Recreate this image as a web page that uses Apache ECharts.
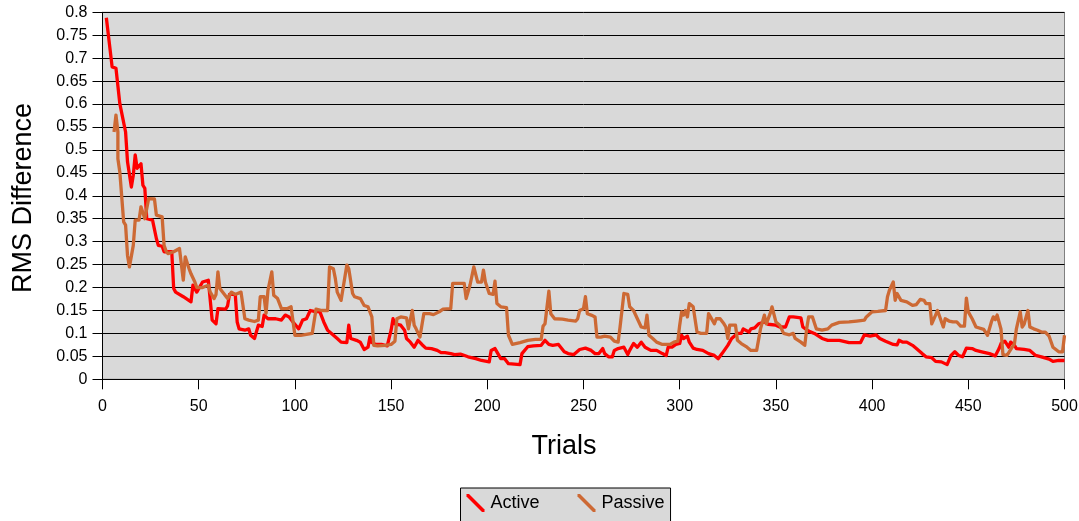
<!DOCTYPE html>
<html>
<head>
<meta charset="utf-8">
<title>RMS Difference by Trial</title>
<script src="https://cdn.jsdelivr.net/npm/echarts@6/dist/echarts.min.js"></script>
<style>
  html, body { margin: 0; padding: 0; background: #ffffff; }
  #chart { width: 1079px; height: 521px; }
</style>
</head>
<body>
<div id="chart"></div>
<script>
// [trial, RMS difference] samples for each learner
const activeData = [
  [2,0.788],[5,0.681],[7,0.678],[9,0.601],[10,0.598],[12,0.539],[13,0.474],[14,0.47],[15,0.419],[16,0.445],
  [17,0.489],[18,0.46],[20,0.47],[21,0.423],[22,0.416],[23,0.35],[26,0.347],[28,0.307],[29,0.292],[31,0.29],
  [32,0.278],[36,0.278],[37,0.198],[38,0.19],[42,0.18],[46,0.169],[47,0.205],[49,0.19],[52,0.212],[55,0.216],
  [57,0.129],[59,0.121],[60,0.154],[64,0.153],[65,0.16],[66,0.185],[69,0.185],[70,0.125],[71,0.11],[72,0.112],
  [74,0.107],[76,0.11],[77,0.096],[79,0.089],[80,0.085],[81,0.118],[83,0.115],[84,0.14],[86,0.132],[90,0.132],
  [93,0.129],[95,0.14],[97,0.136],[99,0.125],[102,0.11],[104,0.129],[106,0.132],[108,0.15],[110,0.148],[113,0.147],
  [115,0.125],[117,0.107],[119,0.1],[122,0.089],[124,0.081],[127,0.08],[128,0.118],[129,0.089],[132,0.085],[134,0.081],
  [136,0.065],[138,0.07],[139,0.092],[140,0.08],[142,0.076],[145,0.076],[148,0.073],[150,0.107],[151,0.132],[152,0.121],
  [155,0.118],[157,0.107],[158,0.089],[160,0.081],[162,0.07],[164,0.085],[166,0.076],[168,0.068],[171,0.067],[174,0.063],
  [176,0.058],[178,0.058],[181,0.056],[183,0.054],[186,0.055],[190,0.049],[194,0.045],[197,0.041],[201,0.038],[202,0.063],
  [204,0.067],[205,0.063],[207,0.045],[209,0.045],[211,0.034],[214,0.033],[217,0.032],[218,0.056],[221,0.071],[224,0.073],
  [228,0.074],[229,0.07],[230,0.085],[232,0.076],[234,0.074],[237,0.076],[240,0.06],[242,0.056],[245,0.054],[248,0.065],
  [251,0.068],[254,0.063],[256,0.056],[258,0.056],[260,0.067],[261,0.056],[263,0.049],[265,0.049],[266,0.063],[268,0.067],
  [271,0.07],[273,0.054],[274,0.063],[276,0.078],[278,0.07],[280,0.081],[282,0.07],[285,0.063],[288,0.063],[291,0.056],
  [293,0.052],[294,0.07],[296,0.07],[298,0.076],[300,0.078],[301,0.096],[302,0.089],[304,0.094],[305,0.081],[307,0.068],
  [309,0.065],[312,0.063],[315,0.056],[318,0.052],[320,0.045],[322,0.056],[323,0.054],[325,0.074],[327,0.089],[328,0.088],
  [330,0.1],[332,0.1],[333,0.11],[336,0.103],[337,0.11],[339,0.112],[341,0.121],[344,0.125],[346,0.12],[350,0.118],
  [352,0.114],[355,0.114],[357,0.136],[359,0.136],[363,0.134],[364,0.114],[367,0.105],[370,0.1],[374,0.089],[377,0.085],
  [383,0.085],[388,0.08],[394,0.08],[396,0.097],[399,0.094],[402,0.097],[404,0.089],[407,0.083],[411,0.076],[413,0.075],
  [414,0.085],[416,0.081],[418,0.081],[421,0.074],[423,0.067],[426,0.056],[428,0.049],[431,0.047],[433,0.039],[436,0.038],
  [439,0.032],[441,0.052],[443,0.06],[445,0.052],[447,0.049],[449,0.068],[452,0.067],[454,0.063],[457,0.06],[461,0.056],
  [464,0.051],[466,0.067],[467,0.078],[469,0.083],[471,0.07],[472,0.081],[474,0.074],[475,0.067],[479,0.065],[482,0.063],
  [485,0.052],[488,0.049],[492,0.044],[494,0.039],[497,0.041],[500,0.041]
];

const passiveData = [
  [6,0.539],[7,0.576],[8,0.539],[8,0.481],[9,0.452],[11,0.343],[12,0.336],[13,0.27],[14,0.245],[15,0.249],
  [16,0.292],[17,0.347],[19,0.347],[20,0.376],[21,0.38],[22,0.35],[23,0.35],[24,0.394],[27,0.393],[28,0.358],
  [31,0.354],[32,0.292],[33,0.28],[34,0.274],[37,0.278],[40,0.285],[41,0.289],[42,0.216],[43,0.267],[45,0.241],
  [46,0.23],[48,0.212],[49,0.2],[52,0.2],[55,0.205],[56,0.19],[58,0.176],[59,0.185],[60,0.234],[61,0.198],
  [63,0.187],[65,0.176],[67,0.19],[69,0.185],[72,0.19],[73,0.187],[74,0.132],[76,0.129],[79,0.126],[81,0.129],
  [82,0.18],[84,0.18],[85,0.144],[86,0.194],[88,0.234],[89,0.183],[91,0.176],[92,0.172],[93,0.154],[96,0.154],
  [98,0.158],[99,0.156],[100,0.096],[103,0.096],[106,0.098],[109,0.1],[110,0.101],[111,0.153],[114,0.15],[117,0.15],
  [118,0.245],[120,0.241],[121,0.22],[122,0.19],[124,0.172],[125,0.172],[127,0.249],[128,0.241],[130,0.187],[131,0.18],
  [134,0.176],[136,0.161],[138,0.158],[140,0.136],[141,0.074],[143,0.073],[147,0.074],[150,0.076],[152,0.083],[153,0.132],
  [155,0.136],[158,0.134],[159,0.11],[160,0.108],[161,0.15],[162,0.118],[163,0.11],[165,0.092],[166,0.09],[167,0.143],
  [170,0.143],[172,0.141],[175,0.147],[177,0.153],[181,0.154],[182,0.209],[188,0.209],[189,0.176],[191,0.205],[192,0.209],
  [193,0.245],[194,0.241],[195,0.212],[197,0.212],[198,0.238],[199,0.212],[201,0.187],[203,0.185],[204,0.214],[205,0.165],
  [207,0.158],[210,0.156],[211,0.096],[213,0.076],[217,0.08],[221,0.085],[225,0.087],[228,0.087],[229,0.116],[230,0.121],
  [232,0.192],[233,0.143],[235,0.132],[239,0.131],[242,0.129],[246,0.127],[247,0.132],[248,0.15],[250,0.154],[251,0.18],
  [252,0.143],[254,0.14],[256,0.136],[257,0.092],[259,0.092],[261,0.094],[264,0.092],[266,0.083],[268,0.081],[269,0.114],
  [270,0.118],[271,0.187],[273,0.185],[274,0.158],[276,0.15],[278,0.132],[280,0.114],[282,0.112],[283,0.14],[284,0.096],
  [286,0.089],[288,0.081],[291,0.076],[292,0.078],[295,0.076],[297,0.081],[299,0.083],[300,0.118],[301,0.147],[302,0.14],
  [303,0.15],[304,0.136],[305,0.165],[307,0.158],[308,0.158],[309,0.103],[311,0.1],[314,0.1],[315,0.143],[316,0.136],
  [318,0.121],[319,0.132],[321,0.132],[323,0.121],[324,0.114],[325,0.089],[326,0.118],[329,0.118],[330,0.085],[332,0.078],
  [335,0.07],[337,0.063],[340,0.063],[342,0.11],[343,0.114],[344,0.14],[345,0.121],[347,0.143],[348,0.158],[349,0.158],
  [350,0.125],[352,0.118],[354,0.1],[357,0.097],[359,0.1],[360,0.089],[363,0.081],[365,0.074],[366,0.11],[367,0.136],
  [369,0.136],[371,0.11],[374,0.107],[377,0.11],[379,0.118],[383,0.124],[388,0.125],[392,0.127],[396,0.129],[397,0.136],
  [400,0.147],[403,0.148],[407,0.15],[408,0.18],[409,0.194],[411,0.212],[412,0.172],[413,0.187],[415,0.172],[418,0.169],
  [421,0.161],[423,0.163],[425,0.174],[427,0.172],[428,0.165],[430,0.165],[431,0.121],[432,0.125],[433,0.14],[434,0.15],
  [435,0.154],[437,0.114],[438,0.132],[440,0.127],[442,0.125],[444,0.125],[446,0.116],[448,0.116],[449,0.177],[450,0.147],
  [452,0.132],[454,0.114],[455,0.11],[458,0.109],[460,0.096],[461,0.096],[462,0.125],[463,0.136],[464,0.13],[465,0.14],
  [467,0.109],[468,0.054],[470,0.052],[471,0.058],[474,0.078],[475,0.11],[477,0.147],[478,0.114],[479,0.12],[481,0.15],
  [482,0.114],[484,0.11],[486,0.107],[488,0.103],[490,0.103],[492,0.094],[494,0.07],[497,0.06],[499,0.06],[500,0.096]
];

const seriesNames = ['Active', 'Passive'];
const seriesColors = ['#ff0000', '#cd6934'];
const xAxisTitle = 'Trials';
const yAxisTitle = 'RMS Difference';

const FONT = '"Liberation Sans", Arial, sans-serif';
// diagonal stroke used as legend key
const slashIcon = 'path://M0,0 L2.5,0 L18,15.5 L18,18 L15.5,18 L0,2.5 Z';

const chart = echarts.init(document.getElementById('chart'), null, { renderer: 'canvas' });

chart.setOption({
  animation: false,
  backgroundColor: '#ffffff',
  textStyle: { fontFamily: FONT },
  grid: {
    left: 102.5,
    top: 12.3,
    right: 14.5,
    bottom: 141.7,
    show: true,
    backgroundColor: '#d9d9d9',
    borderColor: '#808080',
    borderWidth: 1,
    containLabel: false,
    outerBoundsMode: 'none'
  },
  xAxis: {
    type: 'value',
    min: 0,
    max: 500,
    interval: 50,
    axisLine: { show: true, onZero: false, lineStyle: { color: '#000000', width: 1 } },
    axisTick: { show: true, inside: false, length: 10, lineStyle: { color: '#000000', width: 1 } },
    axisLabel: { color: '#000000', fontSize: 16, fontFamily: FONT, margin: 19 },
    splitLine: { show: false }
  },
  yAxis: {
    type: 'value',
    min: 0,
    max: 0.8,
    interval: 0.05,
    axisLine: { show: true, lineStyle: { color: '#000000', width: 1 } },
    axisTick: { show: true, inside: false, length: 10, lineStyle: { color: '#000000', width: 1 } },
    axisLabel: {
      color: '#000000', fontSize: 16, fontFamily: FONT, margin: 15,
      formatter: v => String(+v.toFixed(2))
    },
    splitLine: { show: true, lineStyle: { color: '#000000', width: 1 } }
  },
  legend: {
    left: 460.5,
    top: 488,
    orient: 'horizontal',
    backgroundColor: '#d9d9d9',
    borderColor: '#000000',
    borderWidth: 1,
    borderRadius: 0,
    padding: [6, 6, 16, 6],
    itemWidth: 18,
    itemHeight: 18,
    itemGap: 38,
    textStyle: { color: '#000000', fontSize: 18, fontFamily: FONT, padding: [11, 0, 0, 1] },
    data: seriesNames.map(n => ({ name: n, icon: slashIcon }))
  },
  graphic: [
    {
      type: 'text',
      x: 564,
      y: 447,
      style: {
        text: xAxisTitle,
        fill: '#000000',
        font: '27px ' + FONT,
        textAlign: 'center',
        textVerticalAlign: 'middle'
      }
    },
    {
      type: 'text',
      x: 24,
      y: 198,
      rotation: Math.PI / 2,
      style: {
        text: yAxisTitle,
        fill: '#000000',
        font: '27px ' + FONT,
        textAlign: 'center',
        textVerticalAlign: 'middle'
      }
    }
  ],
  series: [
    {
      name: seriesNames[0],
      type: 'line',
      data: activeData,
      showSymbol: false,
      symbol: 'none',
      color: seriesColors[0],
      lineStyle: { color: seriesColors[0], width: 3.3, join: 'round' },
      emphasis: { disabled: true },
      z: 2
    },
    {
      name: seriesNames[1],
      type: 'line',
      data: passiveData,
      showSymbol: false,
      symbol: 'none',
      color: seriesColors[1],
      lineStyle: { color: seriesColors[1], width: 3.3, join: 'round' },
      emphasis: { disabled: true },
      z: 3
    }
  ]
});
</script>
</body>
</html>
